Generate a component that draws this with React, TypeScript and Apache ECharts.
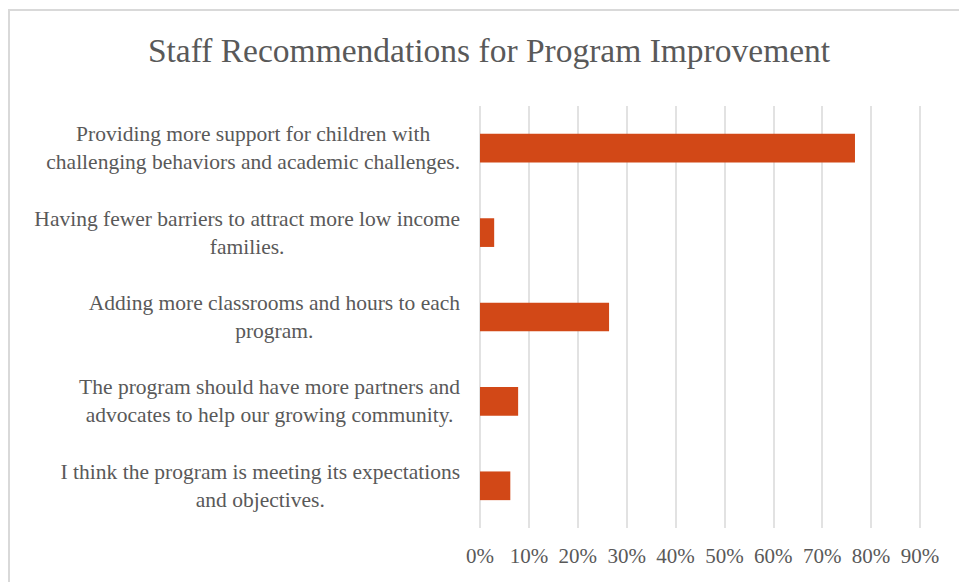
import React, { useEffect, useRef } from "react";
import * as echarts from "echarts";

const TITLE = "Staff Recommendations for Program Improvement";

const categories: string[] = [
  "Providing more support for children with\nchallenging behaviors and academic challenges.",
  "Having fewer barriers to attract more low income\nfamilies.",
  "Adding more classrooms and hours to each\nprogram.",
  "The program should have more partners and\nadvocates to help our growing community.",
  "I think the program is meeting its expectations\nand objectives.",
];

// share of staff responses, in percent
const shares: number[] = [76.7, 2.9, 26.4, 7.8, 6.2];

const AXIS_MAX = 90;
const AXIS_STEP = 10;

const FONT = "'Liberation Serif', 'DejaVu Serif', serif";
const TEXT_COLOR = "#595959";
const BAR_COLOR = "#d24817";
const GRID_COLOR = "#d9d9d9";

export default function App() {
  const ref = useRef<HTMLDivElement>(null);

  useEffect(() => {
    if (!ref.current) return;
    const chart = echarts.init(ref.current, undefined, { renderer: "svg" });
    chart.setOption({
      animation: false,
      backgroundColor: "#ffffff",
      title: {
        text: TITLE,
        left: 484,
        top: 28,
        textAlign: "center",
        textStyle: {
          fontFamily: FONT,
          fontSize: 33.5,
          fontWeight: "normal",
          color: TEXT_COLOR,
        },
      },
      graphic: [
        {
          type: "rect",
          shape: { x: 9, y: 10, width: 1000, height: 700 },
          style: { fill: "none", stroke: GRID_COLOR, lineWidth: 2 },
          silent: true,
        },
      ],
      grid: { left: 480, right: 39, top: 106, bottom: 54, containLabel: false },
      xAxis: {
        type: "value",
        min: 0,
        max: AXIS_MAX,
        interval: AXIS_STEP,
        axisLine: { show: false },
        axisTick: { show: false },
        splitLine: { show: true, lineStyle: { color: GRID_COLOR, width: 1.5 } },
        axisLabel: {
          formatter: (v: number) => `${v}%`,
          fontFamily: FONT,
          fontSize: 21,
          color: TEXT_COLOR,
          margin: 17,
        },
      },
      yAxis: {
        type: "category",
        data: categories,
        inverse: true,
        axisLine: { show: false },
        axisTick: { show: false },
        splitLine: { show: false },
        axisLabel: {
          margin: 20,
          fontFamily: FONT,
          fontSize: 21.5,
          color: TEXT_COLOR,
          formatter: (v: string) =>
            v
              .split("\n")
              .map((line) => `{c|${line}}`)
              .join("\n"),
          rich: {
            c: {
              align: "center",
              fontFamily: FONT,
              fontSize: 21.5,
              lineHeight: 28,
              color: TEXT_COLOR,
            },
          },
        },
      },
      series: [
        {
          type: "bar",
          data: shares,
          barWidth: "34%",
          itemStyle: { color: BAR_COLOR },
        },
      ],
    });
    return () => chart.dispose();
  }, []);

  return (
    <div
      ref={ref}
      style={{ position: "absolute", left: 0, top: 0, width: 959, height: 582 }}
    />
  );
}
